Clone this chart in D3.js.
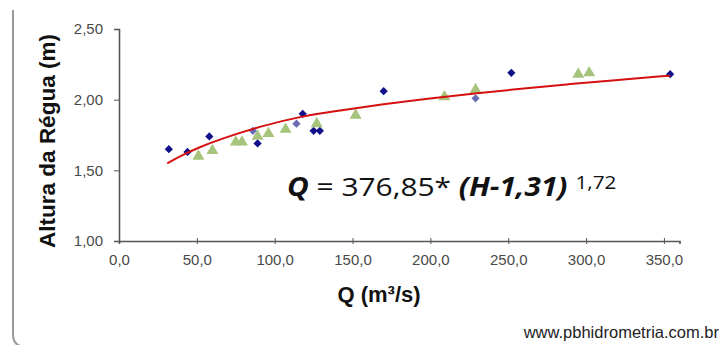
<!DOCTYPE html>
<html>
<head>
<meta charset="utf-8">
<script src="https://cdn.jsdelivr.net/npm/d3@7"></script>
<style>
  body { margin: 0; background: #fff; }
  svg { display: block; }
  .tick text { font-family: "Liberation Sans", Arial, sans-serif; font-size: 15px; fill: #4a4a4a; }
</style>
</head>
<body>
<div id="chart"></div>
<script>
// dark blue diamonds
var darkQ = [32, 44, 58, 89, 118, 125, 129, 170, 252, 354];
var darkH = [1.65, 1.63, 1.74, 1.69, 1.90, 1.78, 1.78, 2.06, 2.19, 2.18];
// lighter diamonds (partly hidden)
var lightQ = [86, 114, 229];
var lightH = [1.78, 1.83, 2.01];
// green triangles
var triQ = [51, 60, 75, 79, 89, 96, 107, 127, 152, 209, 229, 295, 302];
var triH = [1.60, 1.64, 1.70, 1.70, 1.74, 1.76, 1.79, 1.83, 1.89, 2.02, 2.07, 2.18, 2.19];
// red curve
var curveQ = [31, 41, 52, 65, 90, 118, 140, 168, 200, 230, 260, 290, 320, 354];
var curveH = [1.55, 1.61, 1.665, 1.72, 1.81, 1.885, 1.92, 1.965, 2.01, 2.045, 2.08, 2.11, 2.14, 2.17];

var xTicks = [0, 50, 100, 150, 200, 250, 300, 350];
var yTicks = [1.0, 1.5, 2.0, 2.5];

var width = 719, height = 345;
var fmt = function(d, n) { return d.toFixed(n).replace('.', ','); };

var svg = d3.select('#chart').append('svg')
  .attr('width', width)
  .attr('height', height);

// frame, only the left side and bottom-left corner show
svg.append('path')
  .attr('d', 'M13,10 V334 Q13,347 26,347 H719')
  .attr('fill', 'none')
  .attr('stroke', '#9a9a9a')
  .attr('stroke-width', 2);

var x = d3.scaleLinear().domain([0, 360]).range([119, 679.5]);
var y = d3.scaleLinear().domain([1, 2.5]).range([241, 29]);

var xAxis = svg.append('g')
  .attr('transform', 'translate(0,' + y(1) + ')')
  .call(d3.axisBottom(x).tickValues(xTicks).tickSize(3).tickPadding(10)
    .tickFormat(function(d) { return fmt(d, 1); }));
xAxis.selectAll('.tick line').attr('y1', -3).attr('stroke', '#555');
xAxis.select('.domain').attr('stroke', '#555').attr('stroke-width', 1.6);

var yAxis = svg.append('g')
  .attr('transform', 'translate(' + x(0) + ',0)')
  .call(d3.axisLeft(y).tickValues(yTicks).tickSize(5).tickPadding(11)
    .tickFormat(function(d) { return fmt(d, 2); }));
yAxis.selectAll('.tick line').attr('stroke', '#555');
yAxis.select('.domain').attr('stroke', '#555').attr('stroke-width', 1.6);

var diamond = d3.symbol().type(d3.symbolSquare).size(34);
var tri = d3.symbol().type(d3.symbolTriangle).size(62);

svg.append('g').selectAll('path')
  .data(d3.range(lightQ.length))
  .enter().append('path')
  .attr('d', diamond)
  .attr('transform', function(i) { return 'translate(' + x(lightQ[i]) + ',' + y(lightH[i]) + ') rotate(45)'; })
  .attr('fill', '#6b6bb5');

svg.append('g').selectAll('path')
  .data(d3.range(darkQ.length))
  .enter().append('path')
  .attr('d', diamond)
  .attr('transform', function(i) { return 'translate(' + x(darkQ[i]) + ',' + y(darkH[i]) + ') rotate(45)'; })
  .attr('fill', '#10108a');

svg.append('g').selectAll('path')
  .data(d3.range(triQ.length))
  .enter().append('path')
  .attr('d', tri)
  .attr('transform', function(i) { return 'translate(' + x(triQ[i]) + ',' + y(triH[i]) + ')'; })
  .attr('fill', '#a6c47c');

var line = d3.line()
  .x(function(i) { return x(curveQ[i]); })
  .y(function(i) { return y(curveH[i]); })
  .curve(d3.curveBasis);

svg.append('path')
  .datum(d3.range(curveQ.length))
  .attr('d', line)
  .attr('fill', 'none')
  .attr('stroke', '#d41010')
  .attr('stroke-width', 2);

// equation (a bit wider than the font, like the original)
var eq = svg.append('text')
  .attr('transform', 'translate(287,196) scale(1.15,1)')
  .style('font-family', '"Open Sans", sans-serif')
  .style('font-size', '26px')
  .attr('fill', '#111');
eq.append('tspan').style('font-weight', 'bold').style('font-style', 'italic').text('Q');
eq.append('tspan').text(' = 376,85* ');
eq.append('tspan').style('font-weight', 'bold').style('font-style', 'italic').text('(H-1,31)');
eq.append('tspan').attr('dx', 7).attr('dy', -7).style('font-size', '18px').text('1,72');

// axis titles
svg.append('text')
  .attr('transform', 'translate(55,141) rotate(-90)')
  .attr('text-anchor', 'middle')
  .style('font-family', '"Liberation Sans", Arial, sans-serif')
  .style('font-weight', 'bold')
  .style('font-size', '22.5px')
  .attr('fill', '#111')
  .text('Altura da Régua (m)');

svg.append('text')
  .attr('x', 379)
  .attr('y', 302)
  .attr('text-anchor', 'middle')
  .style('font-family', '"Liberation Sans", Arial, sans-serif')
  .style('font-weight', 'bold')
  .style('font-size', '22px')
  .attr('fill', '#111')
  .text('Q (m³/s)');

svg.append('text')
  .attr('x', 719)
  .attr('y', 338)
  .attr('text-anchor', 'end')
  .style('font-family', '"Liberation Sans", Arial, sans-serif')
  .style('font-size', '16.5px')
  .attr('fill', '#222')
  .text('www.pbhidrometria.com.br');
</script>
</body>
</html>
